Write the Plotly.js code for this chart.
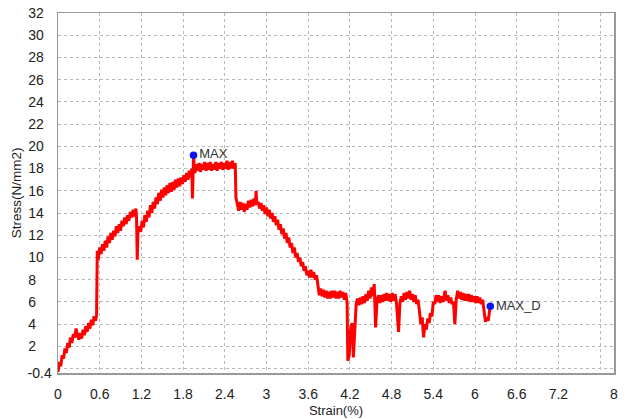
<!DOCTYPE html>
<html>
<head>
<meta charset="utf-8">
<script src="https://cdn.plot.ly/plotly-3.0.1.min.js"></script>
<style>html,body{margin:0;padding:0;background:#fff;}#chart{width:625px;height:419px;}</style>
</head>
<body>
<div id="chart"></div>
<script>
// Strain (%) and Stress (N/mm2)
const strain = [
0,0.02,0.04,0.06,0.08,0.10,0.12,0.14,0.16,0.18,0.20,0.22,0.24,0.26,0.28,0.30,0.32,0.34,0.36,0.38,0.40,0.42,0.44,0.46,0.48,0.50,0.52,0.54,0.555,
0.56,0.565,0.58,0.60,0.62,0.64,0.66,0.68,0.70,0.72,0.74,0.76,0.78,0.80,0.82,0.84,0.86,0.88,0.90,0.92,0.94,0.96,0.98,1.00,1.02,1.04,1.06,1.08,1.10,1.12,1.13,1.14,1.15,
1.17,1.19,1.21,1.23,1.25,1.27,1.29,1.31,1.33,1.35,1.37,1.39,1.41,1.43,1.45,1.47,1.49,1.51,1.53,1.55,1.57,1.59,1.61,1.63,1.65,1.67,1.69,1.71,1.73,1.75,1.77,1.79,1.81,1.83,1.85,1.87,1.89,1.91,1.925,1.935,1.945,1.95,
1.97,1.99,2.01,2.03,2.05,2.07,2.09,2.11,2.13,2.15,2.17,2.19,2.21,2.23,2.25,2.27,2.29,2.31,2.33,2.35,2.37,2.39,2.41,2.43,2.45,2.47,2.49,2.51,2.53,2.55,2.56,
2.58,2.60,2.62,2.64,2.66,2.68,2.70,2.72,2.74,2.76,2.78,2.80,2.82,2.84,2.85,2.86,2.88,2.90,2.92,2.94,2.96,2.98,3.00,3.02,3.04,3.06,3.08,3.10,3.12,3.14,3.16,3.18,3.20,3.22,3.24,3.26,3.28,3.30,3.32,3.34,3.36,3.38,3.40,3.42,3.44,3.46,3.48,3.50,3.52,3.54,3.56,3.58,3.60,3.62,3.64,3.66,3.68,3.70,3.72,3.74,3.76,3.78,3.80,3.82,3.84,3.86,3.88,3.90,3.92,3.94,3.96,3.98,4.00,4.02,4.04,4.06,4.08,4.10,4.12,4.14,4.16,
4.17,4.19,4.21,4.23,4.25,4.27,4.29,4.31,4.33,4.35,4.37,4.39,4.41,4.43,4.45,4.47,4.49,4.51,4.53,4.55,4.57,4.59,4.61,4.63,4.65,4.67,4.69,4.71,4.73,4.75,4.77,4.79,4.81,4.83,4.85,4.87,4.90,4.92,4.94,4.96,4.98,5.00,5.02,5.04,5.06,5.08,5.10,5.12,5.14,5.16,5.18,5.20,5.22,5.24,5.26,5.28,5.30,5.32,5.34,5.36,5.38,5.40,5.42,5.44,5.46,5.48,5.50,5.52,5.54,5.56,5.57,5.59,5.61,5.63,5.65,5.67,5.69,5.71,5.73,5.75,5.77,5.79,5.81,5.83,5.85,5.87,5.89,5.91,5.93,5.95,5.97,5.99,6.01,6.03,6.05,6.07,6.09,6.11,6.13,6.15,6.17,6.19,6.21,6.22
];
const stress = [
-0.3,0.6,0.2,1.2,0.9,1.8,1.4,2.3,1.9,2.8,2.3,3.1,2.8,3.6,3.0,2.6,3.2,2.7,3.5,3.0,3.8,3.3,4.1,3.6,4.4,3.9,4.7,4.3,4.8,
9.9,10.6,9.8,10.9,10.3,11.2,10.6,11.5,10.9,11.9,11.3,12.2,11.6,12.4,11.9,12.8,12.2,13.0,12.4,13.3,12.8,13.6,13.0,13.8,13.3,14.1,13.6,14.3,13.7,14.4,13.6,9.8,12.2,
12.8,12.3,13.3,12.7,13.8,13.2,14.2,13.6,14.7,14.0,15.0,14.4,15.4,14.8,15.8,15.1,16.1,15.4,16.3,15.6,16.5,15.8,16.7,15.9,16.8,16.1,17.0,16.3,17.1,16.4,17.2,16.6,17.4,16.8,17.6,17.0,17.8,17.2,18.0,15.3,18.6,19.0,
17.6,18.4,17.8,18.5,17.7,18.4,17.9,18.6,17.8,18.5,17.9,18.6,17.8,18.4,17.9,18.6,17.8,18.5,18.0,18.6,17.9,18.5,18.0,18.7,17.9,18.6,18.0,18.7,18.0,18.5,15.4,
14.8,14.2,15.0,14.3,14.9,14.1,14.8,14.3,15.1,14.5,15.2,14.6,15.3,14.7,16.0,14.8,15.0,14.4,14.9,14.2,14.7,13.9,14.5,13.7,14.3,13.5,14.0,13.2,13.7,12.9,13.4,12.5,13.0,12.1,12.6,11.7,12.2,11.3,11.8,10.9,11.3,10.4,10.9,10.0,10.4,9.6,10.0,9.2,9.6,8.8,9.2,8.4,8.8,8.2,8.9,8.2,8.7,8.0,8.4,7.2,6.6,7.2,6.5,7.1,6.4,7.0,6.3,6.9,6.3,7.0,6.4,7.0,6.3,6.9,6.3,7.0,6.4,6.9,6.2,6.8,5.9,
0.7,1.2,3.5,4.1,1.0,4.2,5.8,6.3,5.7,6.4,5.8,6.5,5.9,6.7,6.1,7.0,6.3,7.3,6.5,7.6,3.7,6.1,6.6,5.9,6.6,6.0,6.7,6.1,6.8,6.1,6.7,6.0,6.8,6.1,6.7,5.9,3.3,5.9,6.5,6.0,6.8,6.2,6.9,6.3,7.0,6.2,6.7,6.0,6.6,5.8,6.2,5.2,4.0,4.6,2.8,4.0,3.5,4.5,4.1,5.0,4.7,6.0,5.8,6.6,6.0,6.6,5.9,6.5,6.0,6.7,7.0,6.1,6.6,5.9,6.4,5.8,6.0,4.0,6.2,7.0,6.3,6.9,6.2,6.8,6.1,6.7,6.1,6.7,6.0,6.6,6.0,6.5,5.9,6.5,5.9,6.4,5.8,6.2,5.0,4.2,4.6,4.3,5.2,5.6
];
// Marked points
const markStrain = [1.95, 6.22];
const markStress = [19.2, 5.6];
const markLabels = ["MAX", "MAX_D"];
// Axis ticks
const xTickVals = [0,0.6,1.2,1.8,2.4,3,3.6,4.2,4.8,5.4,6,6.6,7.2,7.8,8];
const xTickText = ["0","0.6","1.2","1.8","2.4","3","3.6","4.2","4.8","5.4","6","6.6","7.2","","8"];
const yTickVals = [-0.4,0,2,4,6,8,10,12,14,16,18,20,22,24,26,28,30,32];
const yTickText = ["-0.4","","2","4","6","8","10","12","14","16","18","20","22","24","26","28","30","32"];

const F = "\u2007";
const yTickTextPadded = yTickText.map(t => t === "" ? "" : (t.length === 1 ? t + F + F : (t.length === 2 ? t + F : t)));

const traces = [
  {x: strain, y: stress, type: "scatter", mode: "lines",
   line: {color: "#ff0000", width: 3}, hoverinfo: "skip"},
  {x: markStrain, y: markStress, type: "scatter", mode: "markers+text",
   text: markLabels, textposition: "middle right",
   textfont: {family: "Liberation Sans, Arial, sans-serif", size: 13, color: "#333"},
   marker: {color: "#0a14f0", size: 7.5}, hoverinfo: "skip"}
];

const axisCommon = {
  showgrid: true, gridcolor: "#b8b8b8", gridwidth: 1, griddash: "dot",
  zeroline: false, showline: true, linecolor: "#999", linewidth: 1.5, mirror: true,
  ticks: "", tickfont: {family: "Liberation Sans, Arial, sans-serif", size: 14, color: "#222"}
};

const layout = {
  width: 625, height: 419,
  margin: {l: 58, r: 11, t: 13, b: 46},
  paper_bgcolor: "#fff", plot_bgcolor: "#fff",
  showlegend: false,
  xaxis: Object.assign({}, axisCommon, {
    range: [0, 8], tickmode: "array", tickvals: xTickVals, ticktext: xTickText,
    ticklabelstandoff: 8,
    title: {text: "Strain(%)", font: {family: "Liberation Sans, Arial, sans-serif", size: 13, color: "#222"}, standoff: 4}
  }),
  yaxis: Object.assign({}, axisCommon, {
    range: [-0.4, 32], tickmode: "array", tickvals: yTickVals, ticktext: yTickTextPadded,
    ticklabelstandoff: 2,
    title: {text: "Stress(N/mm2)", font: {family: "Liberation Sans, Arial, sans-serif", size: 13.5, color: "#222"}, standoff: 3}
  })
};

Plotly.newPlot("chart", traces, layout, {displayModeBar: false, staticPlot: true});
</script>
</body>
</html>
